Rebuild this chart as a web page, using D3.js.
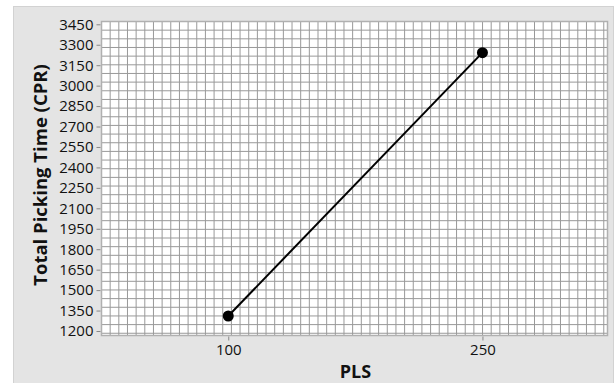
<!DOCTYPE html>
<html>
<head>
<meta charset="utf-8">
<script src="https://cdn.jsdelivr.net/npm/d3@7/dist/d3.min.js"></script>
<style>
  html, body { margin: 0; padding: 0; background: #ffffff; }
  svg { display: block; }
  text { font-family: "Open Sans", "Noto Sans", sans-serif; fill: #111; }
</style>
</head>
<body>
<svg id="chart" width="616" height="383"></svg>
<script>
// ---- data ----
const xCategories = [100, 250];
const yValues = [1310, 3242];
const yTicks = [1200, 1350, 1500, 1650, 1800, 1950, 2100, 2250, 2400, 2550, 2700, 2850, 3000, 3150, 3300, 3450];
const xTicks = [100, 250];
const xTitle = "PLS";
const yTitle = "Total Picking Time (CPR)";

// ---- layout ----
const W = 616, H = 383;
const plot = { left: 101.5, right: 607.5, top: 21.5, bottom: 335.5 };

const svg = d3.select("#chart");

// figure background
svg.append("rect")
  .attr("x", 13.5).attr("y", 6.5)
  .attr("width", 600).attr("height", H)
  .attr("fill", "#e4e4e4")
  .attr("stroke", "#d2d2d2").attr("stroke-width", 1);

const x = d3.scaleLinear().domain([25.2, 323.8]).range([plot.left, plot.right]);
const y = d3.scaleLinear().domain([1167, 3470.5]).range([plot.bottom, plot.top]);

// plot area
svg.append("rect")
  .attr("x", plot.left).attr("y", plot.top)
  .attr("width", plot.right - plot.left).attr("height", plot.bottom - plot.top)
  .attr("fill", "#ffffff");

// graph-paper grid (pixel-based, independent of data ticks)
const cell = 8.66;
const grid = svg.append("g").attr("stroke", "#999").attr("stroke-width", 1);
for (let gx = plot.left + cell; gx < plot.right - 2; gx += cell) {
  grid.append("line").attr("x1", gx).attr("x2", gx).attr("y1", plot.top).attr("y2", plot.bottom);
}
for (let gy = plot.top + cell; gy < plot.bottom - 2; gy += cell) {
  grid.append("line").attr("y1", gy).attr("y2", gy).attr("x1", plot.left).attr("x2", plot.right);
}

// plot frame
svg.append("rect")
  .attr("x", plot.left).attr("y", plot.top)
  .attr("width", plot.right - plot.left).attr("height", plot.bottom - plot.top)
  .attr("fill", "none").attr("stroke", "#b0b0b0").attr("stroke-width", 1.5);

// axes
const yAxis = d3.axisLeft(y).tickValues(yTicks).tickFormat(d3.format("d")).tickSize(4).tickPadding(3);
const gy = svg.append("g").attr("transform", `translate(${plot.left - 1},0)`).call(yAxis);
gy.select(".domain").remove();
gy.selectAll(".tick line").attr("stroke", "#888");
gy.selectAll(".tick text").attr("font-size", 15).attr("fill", "#000")
  .style("font-family", '"Open Sans", sans-serif');

const xAxis = d3.axisBottom(x).tickValues(xTicks).tickFormat(d3.format("d")).tickSize(4).tickPadding(4);
const gx = svg.append("g").attr("transform", `translate(0,${plot.bottom + 1})`).call(xAxis);
gx.select(".domain").remove();
gx.selectAll(".tick line").attr("stroke", "#888");
gx.selectAll(".tick text").attr("font-size", 15).attr("fill", "#000")
  .style("font-family", '"Open Sans", sans-serif');

// axis titles
svg.append("text")
  .attr("x", (plot.left + plot.right) / 2 + 1).attr("y", 378)
  .attr("text-anchor", "middle")
  .attr("font-size", 18).attr("font-weight", "bold")
  .text(xTitle);

svg.append("text")
  .attr("transform", `translate(47,175) rotate(-90)`)
  .attr("text-anchor", "middle")
  .attr("font-size", 18.5).attr("font-weight", "bold")
  .text(yTitle);

// series
const pts = xCategories.map((c, i) => ({ x: c, y: yValues[i] }));
svg.append("path")
  .datum(pts)
  .attr("fill", "none").attr("stroke", "#000").attr("stroke-width", 2)
  .attr("d", d3.line().x(d => x(d.x)).y(d => y(d.y)));

svg.append("g").selectAll("circle").data(pts).join("circle")
  .attr("cx", d => x(d.x)).attr("cy", d => y(d.y)).attr("r", 5.5)
  .attr("fill", "#000");
</script>
</body>
</html>
